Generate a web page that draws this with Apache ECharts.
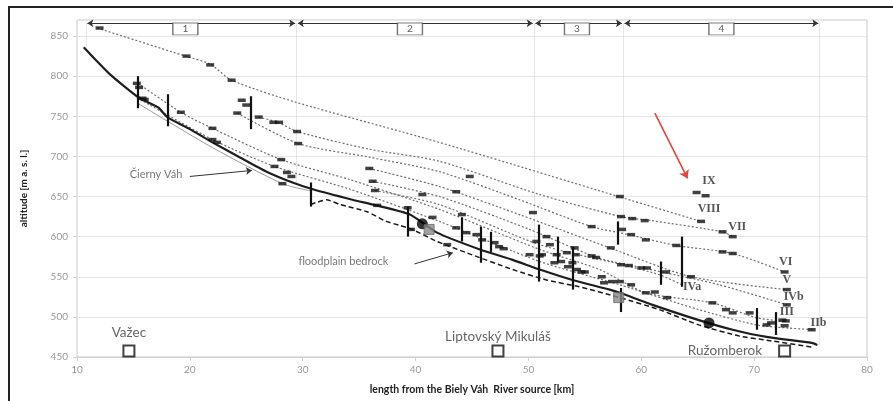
<!DOCTYPE html>
<html><head><meta charset="utf-8">
<script src="https://cdn.jsdelivr.net/npm/echarts@6/dist/echarts.min.js"></script>
<style>html,body{margin:0;padding:0;background:#fff}#c{width:893px;height:401px}</style>
</head><body><div id="c"></div><script>
// ---- data (km from Biely Váh source, altitude m a.s.l.) ----
const xRange = [10, 80];
const yRange = [450, 870];
const sectionBounds = [10.8, 29.45, 50.5, 58.4, 75.8];
const sectionBoundLow = [836, 664, 560, 530, 465];
const sectionNames = ['1', '2', '3', '4'];
const sectionNameKm = [19.6, 39.5, 54.3, 67.1];
const sectionArrowAlt = 866;
const sectionBoxAlt = 859;

const ciernyVah = [[10.6,836],[11.6,821],[12.9,802.5],[14.3,786],[15.4,774],[16.5,766],[17.2,761],[18.0,749],[20.0,734],[22.0,717.5],[24.4,699],[26.8,681],[29.1,667.5],[30.9,659],[34.4,646],[36.5,639],[39.5,627.5],[41.9,605],[45.7,584],[48.6,571],[51.0,559],[53.9,546],[57.2,534],[58.1,530],[61.0,515],[65.1,496],[68.1,484],[71.1,475],[75.1,467.5],[75.6,465]];
const floodplainBedrock = [[30.7,640],[31.2,642.5],[32.1,646],[33.3,640],[35.7,631],[37.4,619],[38.6,614],[39.7,609],[41.9,594],[44.5,580],[48.6,559],[51.6,546],[54.5,537.5],[58.1,524],[61.6,509],[65.1,490],[68.7,476],[71.1,471],[75.3,462]];

const levelVIII = [[11.8,860],[19.6,825],[21.8,815],[23.7,795],[29.4,767.5],[42.1,717.5],[58.2,649],[65.3,619]];
const levelVII = [[26.1,749],[27.8,742.5],[29.5,731],[35.9,709],[42.1,694],[51.0,652.5],[58.2,625],[60.9,620],[67.2,606],[68.1,600]];
const levelVI = [[24.2,754],[29.6,716],[35.9,699],[42.1,681],[49.2,646],[55.6,612.5],[58.9,602.5],[63.1,589],[68.1,579],[72.7,556]];
const levelV = [[35.9,685],[42.1,662.5],[49.2,627.5],[57.4,585],[64.4,550],[72.9,534]];
const levelIVb = [[36.2,669],[42.1,650],[50.1,609],[56.1,574],[60.5,560],[66.9,540],[72.9,515]];
const levelIVa = [[36.4,657.5],[42.1,640],[51.0,590],[58.3,565],[61.6,552.5],[63.6,540]];
const levelIII = [[15.4,791],[19.2,755],[22.0,735],[28.1,696],[34.2,671],[42.1,634],[51.0,584],[56.3,559],[60.4,530],[66.3,517.5],[70.2,499],[72.9,494]];
const levelIIb = [[15.6,771],[22.0,721],[27.5,687.5],[34.2,659],[42.1,619],[51.0,569],[58.1,540],[65.1,509],[70.2,490],[73.1,486],[75.3,484]];
const levelLow = [[15.4,766],[22.0,711],[28.2,666],[30.7,657]];

const terraceRemnants = [[12.0,860],[19.7,825],[21.8,814],[23.7,795],[15.3,791],[15.5,786],[15.8,772.5],[16.0,771],[19.2,755],[22.0,735],[22.0,721],[22.4,717.5],[24.6,770],[25.0,764],[24.2,754],[26.1,749],[27.4,742.5],[27.9,742.5],[29.5,731],[29.6,716],[28.1,696],[27.5,687.5],[28.6,680],[29.0,675],[28.2,666],[35.9,685],[36.2,669],[36.4,657.5],[36.6,639],[40.6,652.5],[43.6,656],[44.8,675],[50.4,630],[55.6,612.5],[39.6,609],[41.5,624],[44.1,627.5],[43.6,611],[44.5,605],[45.4,602.5],[45.9,596],[47.0,592.5],[47.4,587.5],[47.8,585],[42.8,590],[50.1,577.5],[51.0,576],[51.6,600],[51.9,590],[52.3,567.5],[53.4,580],[53.5,562.5],[54.1,586],[54.2,577.5],[54.3,559],[55.0,556],[55.6,576],[56.0,574],[56.5,550],[57.3,586],[58.1,650],[58.2,625],[59.2,622.5],[60.3,620],[58.3,609],[59.1,602.5],[60.4,596],[58.2,565],[58.9,564],[60.0,561],[60.5,561],[57.4,544],[58.1,544],[59.1,540],[62.2,556],[63.1,589],[64.4,550],[64.9,655],[65.7,651],[65.3,619],[67.2,606],[68.1,600],[67.2,581],[68.1,579],[72.7,556],[72.9,534],[72.9,515],[60.4,530],[61.2,531],[62.3,524],[66.3,517.5],[67.5,509],[68.1,505],[69.6,505],[71.1,490],[71.5,492.5],[72.5,496],[72.8,495],[72.7,489],[75.1,484],[39.3,636],[50.7,594],[51.2,577.5],[52.5,577.5],[52.9,569],[53.9,567.5],[54.7,556],[56.7,542.5]];

// vertical extent of terrace sediments: [km, bottom, top]
const sedimentBars = [[15.4,760,800],[18.0,737.5,777.5],[25.4,734,775],[30.7,637.5,667.5],[39.3,600,637.5],[44.1,594,624],[45.8,567.5,612.5],[46.7,581,606],[50.9,544,615],[52.6,569,600],[53.9,534,587.5],[57.9,590,619],[58.2,506,536],[61.7,540,569],[63.6,537.5,600],[70.2,484,511],[71.9,477.5,506]];

const blackDots = [[40.6,616],[66.0,492.5]];
const greySquares = [[41.2,609],[58.0,524]];
const towns = ['Važec', 'Liptovský Mikuláš', 'Ružomberok'];
const townKm = [14.6, 47.3, 72.7];
const townAlt = 457.5;

const levelNames = ['IX','VIII','VII','VI','V','IVb','III','IIb','IVa'];
const levelNamePos = [[66.0,669],[66.0,634],[68.5,612.5],[72.8,569],[72.9,546],[73.5,525],[72.9,506],[75.7,492.5],[64.5,537.5]];

const noteTexts = ['Čierny Váh', 'floodplain bedrock'];
const notePos = [[17.0,678],[33.6,569]];
const noteArrows = [[[20.0,675],[25.5,682.5]],[[39.9,566],[43.3,580]]];
const highlightArrow = [[61.2,754],[64.1,672.5]];

// ---- chart ----
const chart = echarts.init(document.getElementById('c'), null, {renderer: 'canvas'});
const dotted = {color: '#6e6e6e', width: 1.2, type: [2, 2]};
function terrace(d) {
  return {type: 'line', data: d, showSymbol: false, smooth: 0.25, lineStyle: dotted, z: 2, silent: true};
}
const clear = {color: 'rgba(0,0,0,0)', borderWidth: 0};
const series = [
  terrace(levelVIII), terrace(levelVII), terrace(levelVI), terrace(levelV),
  terrace(levelIVb), terrace(levelIVa), terrace(levelIII), terrace(levelIIb),
  {type: 'line', data: levelLow, showSymbol: false, smooth: 0.25, lineStyle: {color: '#9a9a9a', width: 1}, z: 2, silent: true},
  // section boundary lines
  {type: 'lines', coordinateSystem: 'cartesian2d', silent: true, z: 1,
   lineStyle: {color: '#cfcfcf', width: 1},
   data: sectionBounds.map((b, i) => ({coords: [[b, sectionArrowAlt], [b, sectionBoundLow[i]]]}))},
  // section arrows
  {type: 'lines', coordinateSystem: 'cartesian2d', silent: true, z: 5,
   symbol: ['arrow', 'arrow'], symbolSize: 6,
   lineStyle: {color: '#333', width: 1.2, opacity: 1},
   data: sectionNames.map((n, i) => ({coords: [[sectionBounds[i] + 0.12, sectionArrowAlt], [sectionBounds[i + 1] - 0.12, sectionArrowAlt]]}))},
  // section boxes
  {type: 'scatter', silent: true, z: 6, symbol: 'rect', symbolSize: [25, 12],
   itemStyle: {color: '#fff', borderColor: '#555', borderWidth: 1},
   label: {show: true, position: 'inside', formatter: p => p.name, color: '#333', fontSize: 10, fontFamily: 'Lato'},
   data: sectionNames.map((n, i) => ({name: n, value: [sectionNameKm[i], sectionBoxAlt]}))},
  // floodplain bedrock
  {type: 'line', data: floodplainBedrock, showSymbol: false, smooth: 0.2, z: 4, silent: true,
   lineStyle: {color: '#1a1a1a', width: 1.5, type: [5, 3]}},
  // river
  {type: 'line', data: ciernyVah, showSymbol: false, smooth: 0.2, z: 4, silent: true,
   lineStyle: {color: '#1e1e1e', width: 2.2}},
  // terrace remnants
  {type: 'scatter', data: terraceRemnants, symbol: 'rect', symbolSize: [8, 3.5], z: 6, silent: true,
   itemStyle: {color: '#111'}},
  // sediment bars
  {type: 'lines', coordinateSystem: 'cartesian2d', silent: true, z: 6,
   lineStyle: {color: '#111', width: 2.2, opacity: 1},
   data: sedimentBars.map(b => ({coords: [[b[0], b[1]], [b[0], b[2]]]}))},
  {type: 'scatter', data: blackDots, symbol: 'circle', symbolSize: 11, z: 7, silent: true, itemStyle: {color: '#000'}},
  {type: 'scatter', data: greySquares, symbol: 'rect', symbolSize: 10, z: 7, silent: true, itemStyle: {color: '#8a8a8a', borderColor: '#666', borderWidth: 1}},
  // towns
  {type: 'scatter', z: 7, silent: true, symbol: 'rect', symbolSize: 11,
   itemStyle: {color: '#fff', borderColor: '#111', borderWidth: 2},
   label: {show: true, formatter: p => p.name, color: '#404040', fontSize: 13.5, fontFamily: 'Lato'},
   data: towns.map((t, i) => ({name: t, value: [townKm[i], townAlt],
     label: i === 2 ? {position: 'left', distance: 16} : {position: 'top', distance: i === 0 ? 5 : 1}}))},
  // level names
  {type: 'scatter', z: 8, silent: true, symbol: 'circle', symbolSize: 2, itemStyle: clear,
   label: {show: true, position: 'inside', formatter: p => p.name, color: '#2a2a2a', fontSize: 12, fontWeight: 'bold', fontFamily: 'Liberation Serif'},
   data: levelNames.map((n, i) => ({name: n, value: levelNamePos[i]}))},
  // notes
  {type: 'scatter', z: 8, silent: true, symbol: 'circle', symbolSize: 2, itemStyle: clear,
   label: {show: true, position: 'inside', formatter: p => p.name, color: '#555', fontSize: 11, fontFamily: 'Lato'},
   data: noteTexts.map((n, i) => ({name: n, value: notePos[i]}))},
  {type: 'lines', coordinateSystem: 'cartesian2d', silent: true, z: 8,
   symbol: ['none', 'arrow'], symbolSize: 6,
   lineStyle: {color: '#333', width: 1, opacity: 1},
   data: noteArrows.map(a => ({coords: a}))},
  {type: 'lines', coordinateSystem: 'cartesian2d', silent: true, z: 8,
   symbol: ['none', 'arrow'], symbolSize: 8,
   lineStyle: {color: '#e8453c', width: 1.6, opacity: 1},
   data: [{coords: highlightArrow}]}
];

chart.setOption({
  animation: false,
  backgroundColor: '#fff',
  graphic: [{type: 'rect', silent: true, z: -1, shape: {x: 9, y: 7, width: 920, height: 420},
    style: {fill: 'none', stroke: '#222', lineWidth: 2}}],
  grid: {left: 77, right: 26, top: 20, bottom: 44, show: true, borderColor: '#c8c8c8', borderWidth: 1},
  xAxis: {type: 'value', min: xRange[0], max: xRange[1], interval: 10,
    name: 'length from the Biely Váh  River source [km]', nameLocation: 'middle', nameGap: 27,
    nameTextStyle: {fontWeight: 'bold', fontSize: 10.5, color: '#222', fontFamily: 'Lato'},
    axisLine: {lineStyle: {color: '#d0d0d0'}},
    axisTick: {show: true, length: 4, lineStyle: {color: '#d0d0d0'}},
    axisLabel: {color: '#999', fontSize: 10, margin: 8, fontFamily: 'Lato'},
    splitLine: {show: false}},
  yAxis: {type: 'value', min: yRange[0], max: yRange[1], interval: 50,
    name: 'altitude [m a. s. l.]', nameLocation: 'middle', nameGap: 48,
    nameTextStyle: {fontWeight: 'bold', fontSize: 10, color: '#222', fontFamily: 'Lato'},
    axisLine: {show: false},
    axisTick: {show: true, length: 4, lineStyle: {color: '#d0d0d0'}},
    axisLabel: {color: '#999', fontSize: 10, margin: 9, fontFamily: 'Lato', showMaxLabel: false,
      formatter: v => (v % 50 === 0 ? String(v) : '')},
    splitLine: {show: true, lineStyle: {color: '#e6e6e6', width: 1}}},
  series: series
});
</script></body></html>
